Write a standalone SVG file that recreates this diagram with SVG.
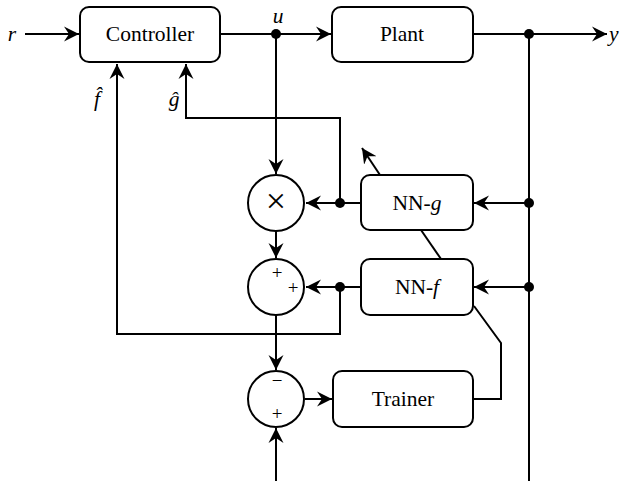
<svg xmlns="http://www.w3.org/2000/svg" width="620" height="481" viewBox="0 0 620 481">
<style>
.box{fill:#fff;stroke:#000;stroke-width:2}
.sum{fill:#fff;stroke:#000;stroke-width:2}
.ln{fill:none;stroke:#000;stroke-width:2}
text{font-family:'Liberation Serif','Times New Roman',serif;fill:#000;text-anchor:middle}
.t{font-size:21.5px}
.i{font-style:italic}
.s{font-size:19px}
</style>
<defs>
<marker id="ah" markerUnits="userSpaceOnUse" markerWidth="17" markerHeight="17" refX="15" refY="8" orient="auto">
<path d="M0,0.5 L15,8 L0,15.5 L5,8 z" fill="#000"/>
</marker>
</defs>
<g id="connectors">
<line class="ln" x1="25" y1="34" x2="79" y2="34" marker-end="url(#ah)"/>
<line class="ln" x1="220" y1="34" x2="331" y2="34" marker-end="url(#ah)"/>
<line class="ln" x1="473" y1="34" x2="607" y2="34" marker-end="url(#ah)"/>
<line class="ln" x1="276" y1="34" x2="276" y2="174" marker-end="url(#ah)"/>
<line class="ln" x1="529" y1="34" x2="529" y2="481"/>
<line class="ln" x1="529" y1="203" x2="474" y2="203" marker-end="url(#ah)"/>
<line class="ln" x1="529" y1="287" x2="474" y2="287" marker-end="url(#ah)"/>
<line class="ln" x1="361" y1="203" x2="306" y2="203" marker-end="url(#ah)"/>
<polyline class="ln" points="340,203 340,118 186,118 186,64" marker-end="url(#ah)"/>
<line class="ln" x1="276" y1="231" x2="276" y2="258" marker-end="url(#ah)"/>
<line class="ln" x1="361" y1="287" x2="306" y2="287" marker-end="url(#ah)"/>
<polyline class="ln" points="340,287 340,334 117,334 117,64" marker-end="url(#ah)"/>
<line class="ln" x1="276" y1="315" x2="276" y2="370" marker-end="url(#ah)"/>
<line class="ln" x1="305" y1="399" x2="332" y2="399" marker-end="url(#ah)"/>
<polyline class="ln" points="473,399 501,399 501,343 474,306"/>
<line class="ln" x1="421" y1="230" x2="441" y2="259"/>
<line class="ln" x1="380" y1="175" x2="362" y2="148" marker-end="url(#ah)"/>
<line class="ln" x1="276" y1="481" x2="276" y2="428" marker-end="url(#ah)"/>
<circle cx="276" cy="34" r="5"/>
<circle cx="529" cy="34" r="5"/>
<circle cx="340" cy="203" r="5"/>
<circle cx="529" cy="203" r="5"/>
<circle cx="340" cy="287" r="5"/>
<circle cx="529" cy="287" r="5"/>
</g>
<g id="controller">
<rect class="box" x="80" y="7" width="140" height="55" rx="9"/>
<text class="t" x="150" y="41">Controller</text>
</g>
<g id="plant">
<rect class="box" x="332" y="7" width="141" height="55" rx="9"/>
<text class="t" x="402" y="41">Plant</text>
</g>
<g id="nn-g">
<rect class="box" x="361" y="175" width="112" height="55" rx="9"/>
<text class="t" x="417" y="210">NN-<tspan class="i">g</tspan></text>
</g>
<g id="nn-f">
<rect class="box" x="361" y="259" width="112" height="56" rx="9"/>
<text class="t" x="417" y="294">NN-<tspan class="i">f</tspan></text>
</g>
<g id="trainer">
<rect class="box" x="333" y="371" width="140" height="56" rx="9"/>
<text class="t" x="403" y="406">Trainer</text>
</g>
<g id="mult">
<circle class="sum" cx="276" cy="203" r="28"/>
<text x="276" y="213" style="font-size:36px">×</text>
</g>
<g id="sum">
<circle class="sum" cx="276" cy="287" r="28"/>
<text class="s" x="277" y="279">+</text>
<text class="s" x="293" y="294">+</text>
</g>
<g id="diff">
<circle class="sum" cx="276" cy="399" r="28"/>
<text class="s" x="277" y="387">−</text>
<text class="s" x="277" y="420">+</text>
</g>
<g id="labels">
<text class="t i" x="12" y="41">r</text>
<text class="t i" x="278" y="23">u</text>
<text class="t i" x="609" y="41" style="text-anchor:start">y</text>
<text class="t i" x="97" y="106">f̂</text>
<text class="t i" x="174" y="106">ĝ</text>
</g>
</svg>
